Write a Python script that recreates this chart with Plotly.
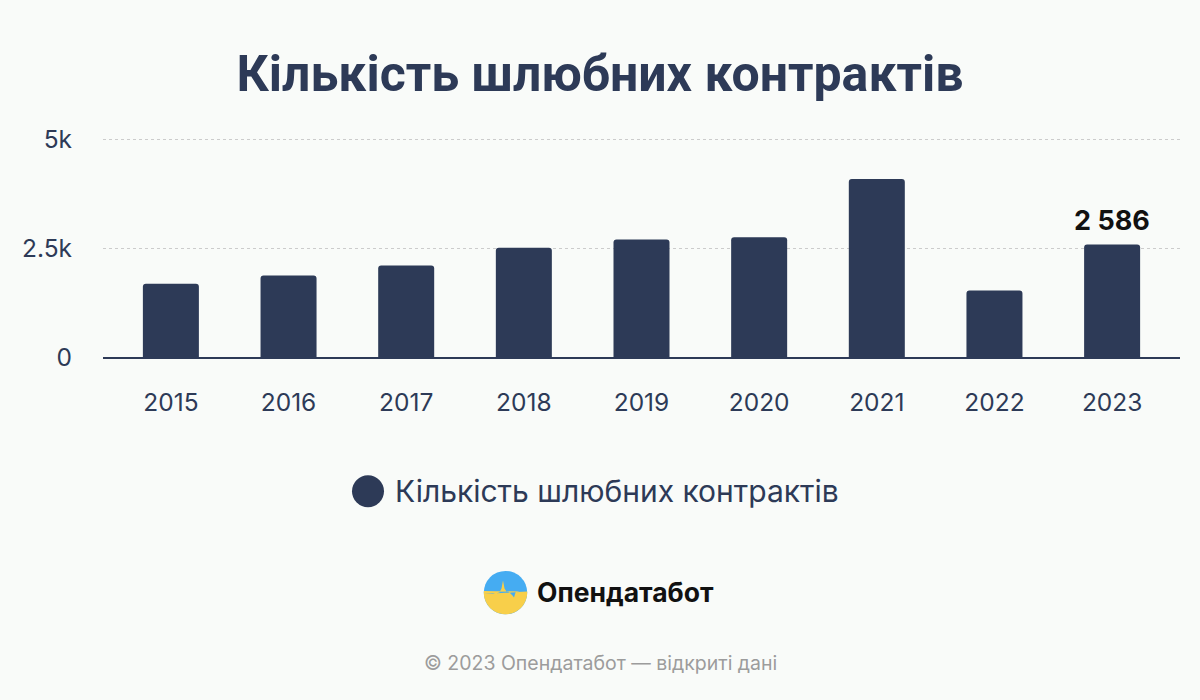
import numpy as np
import plotly.graph_objects as go

# ---- data ----
years = ["2015", "2016", "2017", "2018", "2019", "2020", "2021", "2022", "2023"]
contracts = [1680, 1870, 2100, 2510, 2700, 2750, 4090, 1530, 2586]
series_name = "Кількість шлюбних контрактів"
title_text = "Кількість шлюбних контрактів"
y_tick_vals = [0, 2500, 5000]
y_tick_text = ["0", "2.5k", "5k"]
brand = "Опендатабот"
footer = "© 2023 Опендатабот — відкриті дані"

# ---- style ----
W, H = 1200, 700
BG = "#f9fbf9"
NAVY = "#2d3a57"
L, R = 103, 1180
Y0PX, Y5PX = 356.7, 139.0
YMAX = 5030
T = Y0PX - (Y0PX - Y5PX) * YMAX / 5000
B = Y0PX
PW, PH = R - L, B - T


def px2x(px):
    return (px - L) / PW


def px2y(py):
    return (B - py) / PH


fig = go.Figure()
fig.add_trace(go.Bar(
    x=years, y=contracts, name=series_name,
    marker=dict(color=NAVY, cornerradius=3, line=dict(width=0)),
    width=0.476, showlegend=False, hoverinfo="x+y",
))

last = contracts[-1]
fig.add_annotation(
    x=len(years) - 1, y=last, xref="x", yref="y",
    text=f"{last:,}".replace(",", " "),
    showarrow=False, yanchor="bottom", yshift=5,
    font=dict(family="Inter", size=27, color="#111111", weight="bold"),
)

shapes = []
annotations = []

# manual legend
shapes.append(dict(type="circle", xref="paper", yref="paper",
                   xsizemode="pixel", ysizemode="pixel",
                   xanchor=px2x(368), yanchor=px2y(491),
                   x0=-16, x1=16, y0=-16, y1=16,
                   fillcolor=NAVY, line=dict(width=0)))
annotations.append(dict(xref="paper", yref="paper", x=px2x(393), y=px2y(491),
                        xanchor="left", yanchor="middle", showarrow=False,
                        text=series_name,
                        font=dict(family="Inter", size=30, color=NAVY)))

# logo
cx, cy, r = 505.5, 592.3, 21.7
shapes.append(dict(type="circle", xref="paper", yref="paper",
                   xsizemode="pixel", ysizemode="pixel",
                   xanchor=px2x(cx), yanchor=px2y(cy),
                   x0=-r, x1=r, y0=-r, y1=r,
                   fillcolor="#45acf2", line=dict(width=0)))
skyline = [(-21.6, -1.5), (-12, -1.5), (-6, 0), (-4, 4), (-2.5, 12), (-1, 4),
           (1, 1), (4, 0), (7, -3), (8.5, -5), (10, 0), (14, 1), (21.6, 1)]
theta = np.linspace(np.arctan2(1, 21.6), -np.pi - np.arctan2(1.5, 21.6), 40)
pts = skyline[::-1] + [(r * np.cos(t), r * np.sin(t)) for t in theta]
path = "M " + " L ".join(f"{x:.2f},{y:.2f}" for x, y in pts) + " Z"
shapes.append(dict(type="path", xref="paper", yref="paper",
                   xsizemode="pixel", ysizemode="pixel",
                   xanchor=px2x(cx), yanchor=px2y(cy),
                   path=path, fillcolor="#f8cf4a", line=dict(width=0)))
annotations.append(dict(xref="paper", yref="paper", x=px2x(535), y=px2y(592),
                        xanchor="left", yanchor="middle", showarrow=False,
                        text=brand,
                        font=dict(family="Inter", size=26.5, color="#111111", weight="bold")))
annotations.append(dict(xref="paper", yref="paper", x=px2x(600), y=px2y(663),
                        xanchor="center", yanchor="middle", showarrow=False,
                        text=footer,
                        font=dict(family="Inter", size=19.5, color="#9c9c9c")))

for a in annotations:
    fig.add_annotation(**a)

fig.update_layout(
    width=W, height=H,
    paper_bgcolor=BG, plot_bgcolor=BG,
    margin=dict(l=L, r=W - R, t=T, b=H - B, autoexpand=False),
    title=dict(text=title_text, x=0.5, xanchor="center", y=1 - 73 / H, yanchor="middle",
               font=dict(family="Roboto", size=50, color=NAVY, weight="bold")),
    shapes=shapes,
    showlegend=False,
)
fig.update_xaxes(
    type="category", range=[-0.577, 8.577],
    showline=True, linecolor=NAVY, linewidth=2,
    showgrid=False, ticks="", ticklabelstandoff=23,
    tickfont=dict(family="Inter", size=24.5, color=NAVY),
    fixedrange=True,
)
fig.update_yaxes(
    range=[0, YMAX], tickvals=y_tick_vals, ticktext=y_tick_text,
    showgrid=True, gridcolor="#cccccc", griddash="dot", gridwidth=1,
    zeroline=False, showline=False, ticks="", ticklabelstandoff=30,
    tickfont=dict(family="Inter", size=24.5, color=NAVY),
    fixedrange=True,
)

fig.write_html("out.html", config={"displayModeBar": False})
with open("out.html", encoding="utf-8") as f:
    html = f.read()
html = html.replace("<head>", "<head><style>html,body{margin:0;padding:0;background:%s;}</style>" % BG, 1)
with open("out.html", "w", encoding="utf-8") as f:
    f.write(html)
